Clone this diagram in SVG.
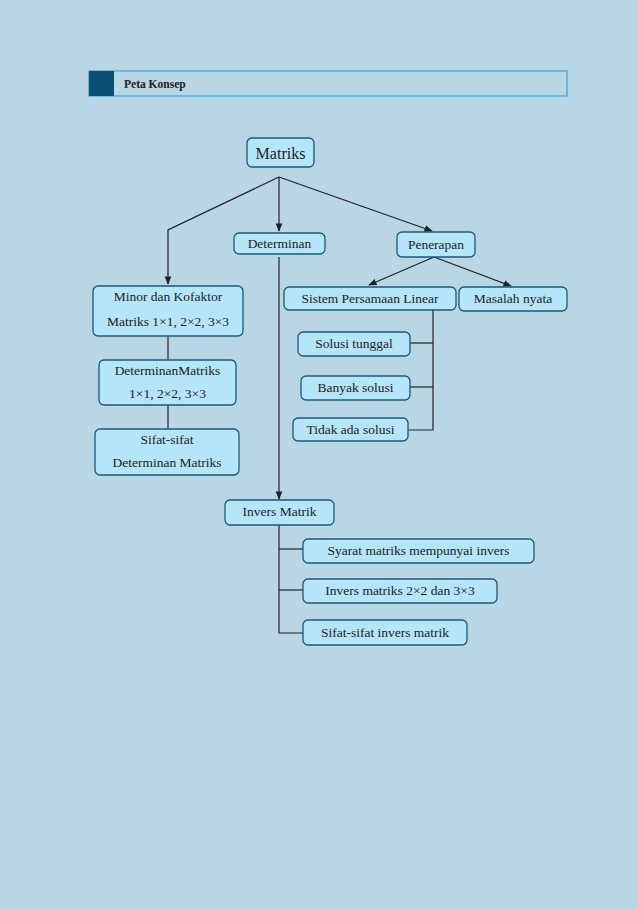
<svg xmlns="http://www.w3.org/2000/svg" width="638" height="909" viewBox="0 0 638 909">
<style>
.n{fill:#b5e5f9;stroke:#1c5878;stroke-width:1.3}
text{font-family:"Liberation Serif",serif;font-size:13.5px;fill:#222;text-anchor:middle}
.c line,.c polyline{stroke:#222;stroke-width:1.2;fill:none}
</style>
<defs><marker id="a" viewBox="0 0 10 10" refX="9" refY="5" markerWidth="7" markerHeight="7" orient="auto"><path d="M0,1L10,5L0,9z" fill="#222"/></marker></defs>
<rect width="638" height="909" fill="#b8d6e3"/>
<g id="header"><rect x="89" y="71" width="478" height="25" fill="#b8d6e3" stroke="#3ba3d8" stroke-width="1.2"/><rect x="89" y="71" width="25" height="25" fill="#0b4f72"/><text x="124" y="88" style="text-anchor:start;font-weight:bold;font-size:11.5px">Peta Konsep</text></g>
<g class="c" id="connectors">
<polyline points="279,177 168,230 168,284" marker-end="url(#a)"/>
<line x1="279" y1="177" x2="279" y2="231" marker-end="url(#a)"/>
<line x1="279" y1="177" x2="432" y2="231" marker-end="url(#a)"/>
<line x1="279" y1="257" x2="279" y2="499" marker-end="url(#a)"/>
<line x1="434" y1="257" x2="369" y2="285" marker-end="url(#a)"/>
<line x1="434" y1="257" x2="511" y2="286" marker-end="url(#a)"/>
<line x1="168" y1="336" x2="168" y2="360"/>
<line x1="168" y1="405" x2="168" y2="429"/>
<polyline points="433,310 433,430 408,430"/>
<line x1="410" y1="343" x2="433" y2="343"/>
<line x1="410" y1="387" x2="433" y2="387"/>
<polyline points="279,525 279,633 303,633"/>
<line x1="279" y1="549" x2="303" y2="549"/>
<line x1="279" y1="590" x2="303" y2="590"/>
</g>
<g id="matriks"><rect class="n" x="247" y="138" width="67" height="29" rx="5"/><text x="280.5" y="159" style="font-size:16px">Matriks</text></g>
<g id="determinan"><rect class="n" x="234" y="233" width="91" height="21" rx="5"/><text x="279.5" y="248">Determinan</text></g>
<g id="penerapan"><rect class="n" x="397" y="232" width="78" height="25" rx="5"/><text x="436" y="249">Penerapan</text></g>
<g id="spl"><rect class="n" x="284" y="287" width="172" height="23" rx="5"/><text x="370" y="303">Sistem Persamaan Linear</text></g>
<g id="masalah"><rect class="n" x="459" y="287" width="108" height="24" rx="5"/><text x="513" y="303">Masalah nyata</text></g>
<g id="minor"><rect class="n" x="93" y="286" width="150" height="50" rx="5"/><text x="168" y="301">Minor dan Kofaktor</text><text x="168" y="326">Matriks 1×1, 2×2, 3×3</text></g>
<g id="detmat"><rect class="n" x="99" y="360" width="137" height="45" rx="5"/><text x="167.5" y="375">DeterminanMatriks</text><text x="167.5" y="398">1×1, 2×2, 3×3</text></g>
<g id="sifatdet"><rect class="n" x="95" y="429" width="144" height="46" rx="5"/><text x="167" y="444">Sifat-sifat</text><text x="167" y="467">Determinan Matriks</text></g>
<g id="solusi1"><rect class="n" x="298" y="332" width="112" height="24" rx="5"/><text x="354" y="348">Solusi tunggal</text></g>
<g id="solusi2"><rect class="n" x="301" y="376" width="109" height="24" rx="5"/><text x="355.5" y="392">Banyak solusi</text></g>
<g id="solusi3"><rect class="n" x="293" y="418" width="115" height="23" rx="5"/><text x="350.5" y="434">Tidak ada solusi</text></g>
<g id="invers"><rect class="n" x="225" y="500" width="109" height="25" rx="5"/><text x="279.5" y="516">Invers  Matrik</text></g>
<g id="syarat"><rect class="n" x="303" y="539" width="231" height="24" rx="5"/><text x="418.5" y="555">Syarat matriks mempunyai invers</text></g>
<g id="inv2"><rect class="n" x="303" y="579" width="194" height="24" rx="5"/><text x="400" y="595">Invers matriks 2×2 dan 3×3</text></g>
<g id="sifatinv"><rect class="n" x="303" y="620" width="164" height="25" rx="5"/><text x="385" y="637">Sifat-sifat invers matrik</text></g>
</svg>
